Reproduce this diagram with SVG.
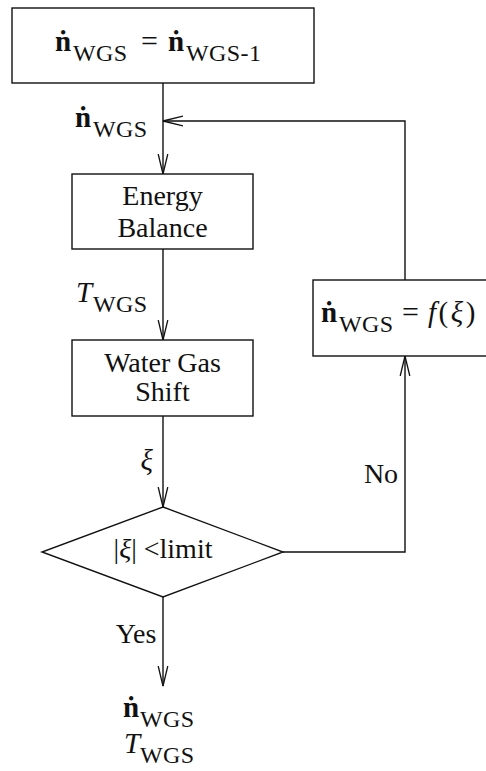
<svg xmlns="http://www.w3.org/2000/svg" width="486" height="771" viewBox="0 0 486 771" font-family="'Liberation Serif','DejaVu Serif',serif">
<defs>
<marker id="arr" markerWidth="22" markerHeight="12" refX="20" refY="6" orient="auto" markerUnits="userSpaceOnUse">
<path d="M0,1.2 L20,6 L0,10.8" fill="none" stroke="#111" stroke-width="1.3"/>
</marker>
<style>
.box{fill:#fff;stroke:#111;stroke-width:1.4}
.ln{fill:none;stroke:#111;stroke-width:1.4}
text{font-family:'Liberation Serif','DejaVu Serif',serif;fill:#111}
.t{font-size:28px;text-anchor:middle}
.n{font-size:29px;font-weight:bold}
.s{font-size:24px;letter-spacing:0.4px}
.i{font-style:italic;font-size:29px}
.eq{font-size:30px}
</style>
</defs>
<g id="connectors">
<line class="ln" x1="163" y1="83" x2="163" y2="174" marker-end="url(#arr)"/>
<polyline class="ln" points="405,280 405,121 163,121" marker-end="url(#arr)"/>
<line class="ln" x1="163" y1="249" x2="163" y2="340" marker-end="url(#arr)"/>
<line class="ln" x1="163" y1="416" x2="163" y2="507" marker-end="url(#arr)"/>
<polyline class="ln" points="283,552 405,552 405,356" marker-end="url(#arr)"/>
<line class="ln" x1="163" y1="597" x2="163" y2="686" marker-end="url(#arr)"/>
<text class="n" x="75" y="127">ṅ</text>
<text class="s" x="93" y="137">WGS</text>
<text class="i" x="76" y="302">T</text>
<text class="s" x="93" y="312">WGS</text>
<text class="i" x="153" y="470" text-anchor="end">ξ</text>
<text class="t" x="381" y="483">No</text>
<text class="t" x="136" y="643">Yes</text>
</g>
<g id="init">
<rect class="box" x="12" y="8" width="302" height="75"/>
<text class="n" x="55" y="51">ṅ</text>
<text class="s" x="73" y="61">WGS</text>
<text class="eq" x="141" y="51">=</text>
<text class="n" x="168" y="51">ṅ</text>
<text class="s" x="186" y="61">WGS-1</text>
</g>
<g id="energy">
<rect class="box" x="72" y="174" width="181" height="75"/>
<text class="t" x="162.5" y="205">Energy</text>
<text class="t" x="162.5" y="237">Balance</text>
</g>
<g id="wgs">
<rect class="box" x="72" y="340" width="181" height="76"/>
<text class="t" x="162.5" y="372">Water Gas</text>
<text class="t" x="162.5" y="401">Shift</text>
</g>
<g id="decision">
<polygon class="box" points="163,507 283,552 163,597 42,552"/>
<text class="t" x="163" y="558">|<tspan font-style="italic">ξ</tspan>| &lt;limit</text>
</g>
<g id="update">
<rect class="box" x="313" y="280" width="185" height="76"/>
<text class="n" x="321" y="322">ṅ</text>
<text class="s" x="339" y="332">WGS</text>
<text class="eq" x="402" y="322">=</text>
<text class="i" x="428" y="322" letter-spacing="2.5">f<tspan font-style="normal">(</tspan>ξ<tspan font-style="normal">)</tspan></text>
</g>
<g id="output">
<text class="n" x="123" y="717">ṅ</text>
<text class="s" x="140" y="727">WGS</text>
<text class="i" x="124" y="753">T</text>
<text class="s" x="140" y="763">WGS</text>
</g>
</svg>
